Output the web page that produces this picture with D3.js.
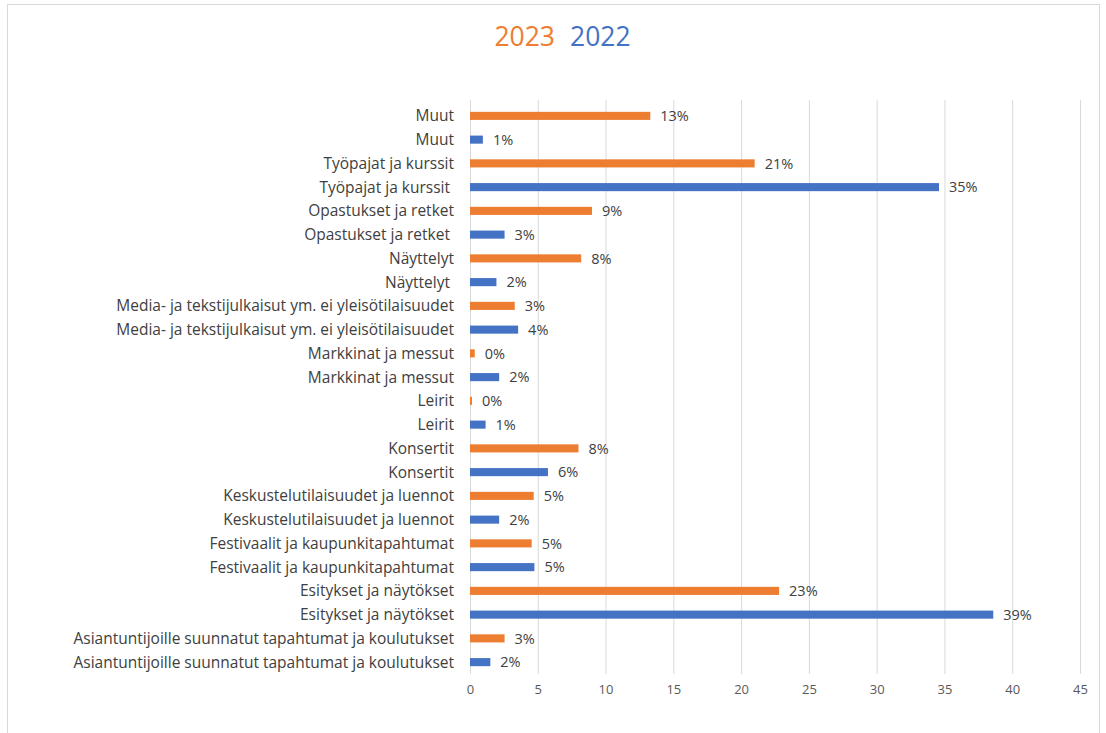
<!DOCTYPE html>
<html>
<head>
<meta charset="utf-8">
<script src="https://cdn.jsdelivr.net/npm/d3@7/dist/d3.min.js"></script>
<style>
  html, body { margin: 0; padding: 0; background: #fff; }
  svg { display: block; }
  text { font-family: "Open Sans", "Noto Sans", sans-serif; }
</style>
</head>
<body>
<svg id="chart" width="1106" height="733"></svg>
<script>
// Rows listed top to bottom
const rowLabels = [
  "Muut", "Muut",
  "Työpajat ja kurssit", "Työpajat ja kurssit ",
  "Opastukset ja retket", "Opastukset ja retket ",
  "Näyttelyt", "Näyttelyt ",
  "Media- ja tekstijulkaisut ym. ei yleisötilaisuudet", "Media- ja tekstijulkaisut ym. ei yleisötilaisuudet",
  "Markkinat ja messut", "Markkinat ja messut",
  "Leirit", "Leirit",
  "Konsertit", "Konsertit",
  "Keskustelutilaisuudet ja luennot", "Keskustelutilaisuudet ja luennot",
  "Festivaalit ja kaupunkitapahtumat", "Festivaalit ja kaupunkitapahtumat",
  "Esitykset ja näytökset", "Esitykset ja näytökset",
  "Asiantuntijoille suunnatut tapahtumat ja koulutukset", "Asiantuntijoille suunnatut tapahtumat ja koulutukset"
];
const rowYears = [
  "2023","2022","2023","2022","2023","2022","2023","2022","2023","2022","2023","2022",
  "2023","2022","2023","2022","2023","2022","2023","2022","2023","2022","2023","2022"
];
const rowValues = [
  13.3, 0.95, 21.0, 34.6, 9.0, 2.55, 8.2, 1.95, 3.3, 3.55, 0.35, 2.15,
  0.15, 1.15, 8.0, 5.75, 4.7, 2.15, 4.55, 4.75, 22.8, 38.6, 2.55, 1.5
];
const rowValueLabels = [
  "13%","1%","21%","35%","9%","3%","8%","2%","3%","4%","0%","2%",
  "0%","1%","8%","6%","5%","2%","5%","5%","23%","39%","3%","2%"
];
const xTicks = [0, 5, 10, 15, 20, 25, 30, 35, 40, 45];
const years = ["2023", "2022"];
const yearColors = { "2023": "#ED7D31", "2022": "#4472C4" };

const svg = d3.select("#chart");

// outer frame
svg.append("rect")
  .attr("x", 7.5).attr("y", 4.5)
  .attr("width", 1092).attr("height", 740)
  .attr("fill", "none").attr("stroke", "#d9d9d9").attr("stroke-width", 1);

// Title (two coloured words)
svg.append("g").selectAll("text")
  .data(years).join("text")
  .attr("x", (d, i) => i === 0 ? 555 : 570)
  .attr("y", 46)
  .attr("text-anchor", (d, i) => i === 0 ? "end" : "start")
  .attr("font-size", 26.5)
  .attr("fill", d => yearColors[d])
  .text(d => d);

const rows = rowLabels.map((l, i) => ({ i, label: l, year: rowYears[i], value: rowValues[i], vlabel: rowValueLabels[i] }));

const x = d3.scaleLinear().domain([0, 45]).range([470, 1080]);
const y = d3.scaleBand().domain(d3.range(rows.length)).range([104, 674]).paddingInner(0.66).paddingOuter(0.33);

// gridlines
svg.append("g").selectAll("line")
  .data(xTicks).join("line")
  .attr("x1", d => x(d) + 0.5).attr("x2", d => x(d) + 0.5)
  .attr("y1", 100).attr("y2", 674)
  .attr("stroke", "#d9d9d9").attr("stroke-width", 1);

// x axis labels
const xAxis = d3.axisBottom(x).tickValues(xTicks).tickSize(0).tickPadding(0);
const gx = svg.append("g").attr("transform", "translate(0,685)").call(xAxis);
gx.select(".domain").remove();
gx.selectAll("text")
  .attr("fill", "#595959")
  .attr("font-size", 13)
  .attr("dy", "0.71em")
  .style("font-family", "\"Open Sans\", sans-serif");

// bars
svg.append("g").selectAll("rect")
  .data(rows).join("rect")
  .attr("x", x(0))
  .attr("y", d => y(d.i))
  .attr("width", d => x(d.value) - x(0))
  .attr("height", y.bandwidth())
  .attr("fill", d => yearColors[d.year]);

// value labels
svg.append("g").selectAll("text")
  .data(rows).join("text")
  .attr("x", d => x(d.value) + 10)
  .attr("y", d => y(d.i) + y.bandwidth() / 2)
  .attr("dy", "0.36em")
  .attr("font-size", 14.5)
  .attr("fill", "#404040")
  .text(d => d.vlabel);

// category labels
const catG = svg.append("g");
const cats = catG.selectAll("text")
  .data(rows).join("text")
  .attr("x", 454)
  .attr("y", d => y(d.i) + y.bandwidth() / 2)
  .attr("dy", "0.36em")
  .attr("text-anchor", "end")
  .attr("font-size", 14)
  .attr("fill", "#404040")
  .style("white-space", "pre")
  .text(d => d.label);

// fit the longest label to the reference width
let maxW = 0;
cats.each(function () { maxW = Math.max(maxW, this.getComputedTextLength()); });
if (maxW > 0) {
  const fs = 14 * 381 / maxW;
  cats.attr("font-size", fs);
}
</script>
</body>
</html>
